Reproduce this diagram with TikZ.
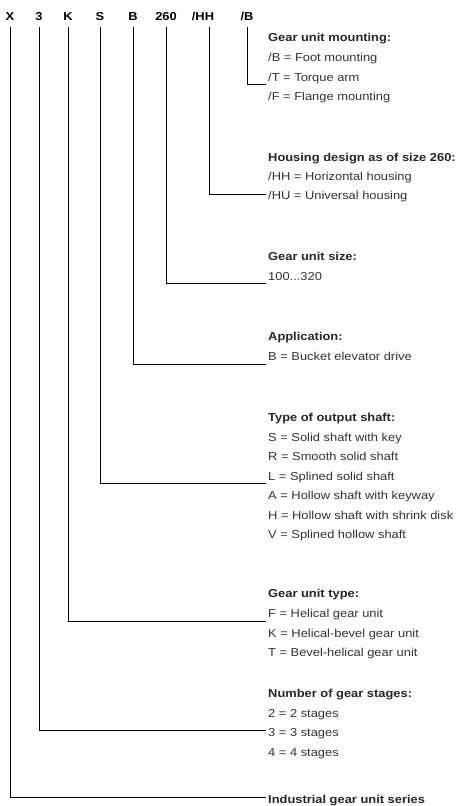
\documentclass[tikz,border=0pt]{standalone}
\usepackage{fontspec}
\setmainfont{Liberation Sans}[FakeStretch=1.12]
\begin{document}
\begin{tikzpicture}[x=1pt,y=-1pt,
  hdr/.style={font=\bfseries\fontsize{11.5}{13}\selectfont, inner sep=0pt, anchor=base},
  txt/.style={font=\fontsize{11.5}{13}\selectfont, inner sep=0pt, anchor=base west, text=black!80},
  headtxt/.style={font=\bfseries\fontsize{11.5}{13}\selectfont, inner sep=0pt, anchor=base west, text=black!85},
  conn/.style={line width=0.9pt, black}]
\useasboundingbox (0,0) rectangle (459,806);
% header codes
\node[hdr] (hX)   at (10,20)  {X};
\node[hdr] (h3)   at (39,20)  {3};
\node[hdr] (hK)   at (68,20)  {K};
\node[hdr] (hS)   at (100,20) {S};
\node[hdr] (hB)   at (133,20) {B};
\node[hdr] (h260) at (166,20) {260};
\node[hdr] (hHH)  at (203,20) {/HH};
\node[hdr] (hsB)  at (247,20) {/B};
% texts
\def\tx{268}
\node[headtxt] (tMount) at (\tx,41) {Gear unit mounting:};
\node[txt] (tM1) at (\tx,61) {/B = Foot mounting};
\node[txt] (tM2) at (\tx,81) {/T = Torque arm};
\node[txt] (tM3) at (\tx,100) {/F = Flange mounting};
\node[headtxt] (tHous) at (\tx,161) {Housing design as of size 260:};
\node[txt] (tH1) at (\tx,180) {/HH = Horizontal housing};
\node[txt] (tH2) at (\tx,199) {/HU = Universal housing};
\node[headtxt] (tSize) at (\tx,260) {Gear unit size:};
\node[txt] (tS1) at (\tx,280) {100...320};
\node[headtxt] (tApp) at (\tx,340) {Application:};
\node[txt] (tA1) at (\tx,360) {B = Bucket elevator drive};
\node[headtxt] (tShaft) at (\tx,421) {Type of output shaft:};
\node[txt] (tO1) at (\tx,441) {S = Solid shaft with key};
\node[txt] (tO2) at (\tx,460) {R = Smooth solid shaft};
\node[txt] (tO3) at (\tx,480) {L = Splined solid shaft};
\node[txt] (tO4) at (\tx,499) {A = Hollow shaft with keyway};
\node[txt] (tO5) at (\tx,519) {H = Hollow shaft with shrink disk};
\node[txt] (tO6) at (\tx,538) {V = Splined hollow shaft};
\node[headtxt] (tType) at (\tx,597) {Gear unit type:};
\node[txt] (tT1) at (\tx,617) {F = Helical gear unit};
\node[txt] (tT2) at (\tx,637) {K = Helical-bevel gear unit};
\node[txt] (tT3) at (\tx,656) {T = Bevel-helical gear unit};
\node[headtxt] (tStage) at (\tx,697) {Number of gear stages:};
\node[txt] (tG1) at (\tx,717) {2 = 2 stages};
\node[txt] (tG2) at (\tx,736) {3 = 3 stages};
\node[txt] (tG3) at (\tx,756) {4 = 4 stages};
\node[headtxt] (tSeries) at (\tx,803) {Industrial gear unit series};
% connector ends
\coordinate (eB)   at (266,84);
\coordinate (eHH)  at (266,194);
\coordinate (e260) at (266,283);
\coordinate (eApp) at (266,364);
\coordinate (eS)   at (266,483);
\coordinate (eK)   at (266,621);
\coordinate (e3)   at (266,730);
\coordinate (eX)   at (266,797);
% connectors
\draw[conn] ([yshift=-7pt]hsB.base) |- (eB);
\draw[conn] ([xshift=6pt,yshift=-7pt]hHH.base) |- (eHH);
\draw[conn] ([yshift=-7pt]h260.base) |- (e260);
\draw[conn] ([yshift=-7pt]hB.base) |- (eApp);
\draw[conn] ([yshift=-7pt]hS.base) |- (eS);
\draw[conn] ([yshift=-7pt]hK.base) |- (eK);
\draw[conn] ([yshift=-7pt]h3.base) |- (e3);
\draw[conn] ([yshift=-7pt]hX.base) |- (eX);
\end{tikzpicture}
\end{document}
